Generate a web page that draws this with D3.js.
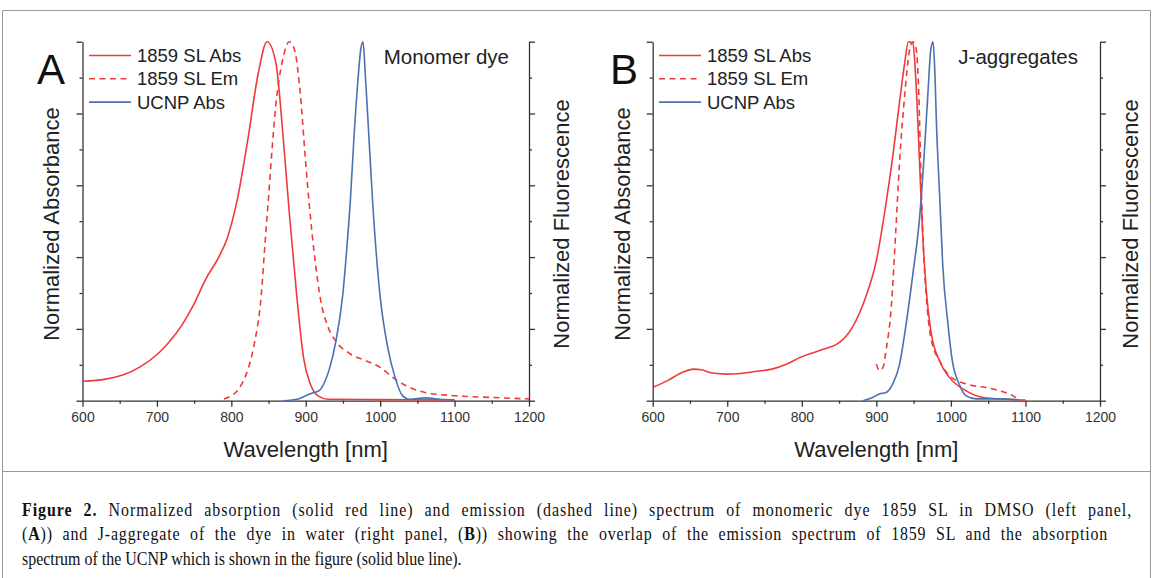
<!DOCTYPE html>
<html>
<head>
<meta charset="utf-8">
<script src="https://cdn.jsdelivr.net/npm/d3@7"></script>
<style>
  body { margin: 0; background: #fff; }
  svg { display: block; }
</style>
</head>
<body>
<div class="chart"></div>
<script>
// panel A: monomer dye  [wavelength nm, normalized value]
const absA = [[600,0.054],[631,0.06],[655,0.072],[678,0.095],[701,0.13],[715,0.16],[734,0.212],[748,0.262],[766,0.34],[783,0.40],[794,0.45],[808,0.56],[822,0.725],[836,0.91],[848,1.0],[860,0.94],[869,0.75],[878,0.52],[888,0.29],[897,0.12],[906,0.047],[916,0.014],[930,0.004],[1000,0.003],[1100,0.002]];
const emA = [[790,0.005],[800,0.014],[810,0.033],[820,0.074],[830,0.15],[840,0.29],[845,0.43],[850,0.567],[855,0.707],[860,0.828],[868,0.94],[878,1.0],[885,0.977],[893,0.847],[900,0.66],[905,0.54],[912,0.40],[920,0.28],[930,0.205],[940,0.167],[960,0.13],[980,0.112],[1000,0.093],[1020,0.06],[1040,0.037],[1060,0.023],[1100,0.014],[1150,0.009],[1200,0.005]];
const ucnpA = [[870,0],[890,0.005],[900,0.014],[910,0.022],[918,0.028],[925,0.05],[932,0.09],[940,0.16],[950,0.30],[955,0.42],[960,0.56],[965,0.74],[970,0.89],[974,0.98],[977,1.0],[980,0.91],[985,0.73],[990,0.55],[1000,0.29],[1010,0.15],[1020,0.065],[1030,0.014],[1040,0.004],[1060,0.008],[1080,0.004],[1100,0.002]];

// panel B: J-aggregates
const absB = [[600,0.037],[620,0.056],[640,0.079],[655,0.088],[665,0.086],[680,0.077],[700,0.074],[740,0.082],[760,0.088],[780,0.102],[797,0.12],[824,0.14],[851,0.163],[868,0.205],[886,0.29],[900,0.39],[913,0.55],[922,0.68],[931,0.83],[938,0.94],[943,1.0],[949,0.995],[953,0.893],[958,0.66],[962,0.47],[967,0.307],[973,0.195],[985,0.11],[998,0.065],[1020,0.028],[1043,0.009],[1074,0.004],[1100,0.002]];
const emB = [[900,0.102],[904,0.084],[909,0.093],[913,0.14],[920,0.26],[926,0.47],[931,0.66],[938,0.85],[944,0.97],[949,1.0],[953,0.986],[957,0.85],[960,0.614],[963,0.43],[967,0.29],[973,0.177],[985,0.11],[998,0.07],[1020,0.047],[1029,0.042],[1047,0.037],[1065,0.028],[1083,0.014],[1092,0.002]];
const ucnpB = [[882,0],[895,0.009],[904,0.019],[913,0.023],[922,0.047],[931,0.10],[940,0.214],[949,0.353],[958,0.51],[964,0.68],[969,0.85],[973,0.977],[976,1.0],[978,0.94],[981,0.75],[985,0.567],[989,0.38],[996,0.214],[1002,0.11],[1011,0.047],[1020,0.014],[1034,0.005],[1065,0.005],[1092,0.002]];

const xTicks = [600, 700, 800, 900, 1000, 1100, 1200];
const xMinor = [650, 750, 850, 950, 1050, 1150];
const yTicks = [0, 0.2, 0.4, 0.6, 0.8, 1.0];
const yMinor = [0.1, 0.3, 0.5, 0.7, 0.9];

const legendLabels = ['1859 SL Abs', '1859 SL Em', 'UCNP Abs'];
const captionLines = [
  [['Figure 2.', true], [' Normalized absorption (solid red line) and emission (dashed line) spectrum of monomeric dye 1859 SL in DMSO (left panel,', false]],
  [['(', false], ['A', true], [')) and J-aggregate of the dye in water (right panel, (', false], ['B', true], [')) showing the overlap of the emission spectrum of 1859 SL and the absorption', false]],
  [['spectrum of the UCNP which is shown in the figure (solid blue line).', false]]
];

const RED = '#f03a3a';
const BLUE = '#4a72b0';
const AXIS = '#333';
const SANS = '"Liberation Sans", Arial, sans-serif';

const width = 1153, height = 578;
const plotTop = 41.7, plotBottom = 400.7;

const svg = d3.select('.chart')
  .append('svg')
  .attr('width', width)
  .attr('height', height);

svg.append('rect').attr('width', width).attr('height', height).attr('fill', '#fff');

// frame
const frame = svg.append('g').attr('fill', 'none').attr('stroke', '#999').attr('stroke-width', 1);
frame.append('path').attr('d', `M2.5,${height} V10.5 H1150.5 V${height}`);
frame.append('line').attr('x1', 2.5).attr('x2', 1150.5).attr('y1', 471.5).attr('y2', 471.5);

const panels = [
  { left: 82.5, right: 529, letter: 'A', note: 'Monomer dye', noteX: 509, abs: absA, em: emA, ucnp: ucnpA, legX: 89, letterX: 37, yTitleL: 51, yTitleR: 561 },
  { left: 652.7, right: 1100, letter: 'B', note: 'J-aggregates', noteX: 1078, abs: absB, em: emB, ucnp: ucnpB, legX: 659, letterX: 610, yTitleL: 622, yTitleR: 1130 }
];

panels.forEach(p => {
  const g = svg.append('g');

  const x = d3.scaleLinear().domain([600, 1200]).range([p.left, p.right]);
  const y = d3.scaleLinear().domain([0, 1]).range([plotBottom, plotTop]);

  // axes
  const styleAxis = sel => {
    sel.selectAll('path, line').attr('stroke', AXIS).attr('stroke-width', 1.3);
    sel.selectAll('text').attr('font-family', SANS).attr('font-size', 14).attr('fill', '#333');
  };

  g.append('g').attr('transform', `translate(0,${plotBottom})`)
    .call(d3.axisBottom(x).tickValues(xTicks).tickFormat(d3.format('d')).tickSize(6).tickSizeOuter(0).tickPadding(5))
    .call(styleAxis);
  g.append('g').attr('transform', `translate(0,${plotBottom})`)
    .call(d3.axisBottom(x).tickValues(xMinor).tickSize(3).tickFormat(''))
    .call(styleAxis).select('.domain').remove();

  g.append('g').attr('transform', `translate(${p.left},0)`)
    .call(d3.axisLeft(y).tickValues(yTicks).tickSize(6).tickSizeOuter(0).tickFormat(''))
    .call(styleAxis);
  g.append('g').attr('transform', `translate(${p.left},0)`)
    .call(d3.axisLeft(y).tickValues(yMinor).tickSize(3).tickFormat(''))
    .call(styleAxis).select('.domain').remove();

  g.append('g').attr('transform', `translate(${p.right},0)`)
    .call(d3.axisRight(y).tickValues(yTicks).tickSize(6).tickSizeOuter(0).tickFormat(''))
    .call(styleAxis);
  g.append('g').attr('transform', `translate(${p.right},0)`)
    .call(d3.axisRight(y).tickValues(yMinor).tickSize(3).tickFormat(''))
    .call(styleAxis).select('.domain').remove();

  // lines
  const line = d3.line().x(d => x(d[0])).y(d => y(d[1])).curve(d3.curveMonotoneX);
  const series = [
    { data: p.abs, color: RED, dash: null },
    { data: p.em, color: RED, dash: '6,4.5' },
    { data: p.ucnp, color: BLUE, dash: null }
  ];
  g.selectAll('.series')
    .data(series)
    .enter()
    .append('path')
    .attr('class', 'series')
    .attr('d', d => line(d.data))
    .attr('fill', 'none')
    .attr('stroke', d => d.color)
    .attr('stroke-width', 1.6)
    .attr('stroke-dasharray', d => d.dash);

  // legend
  const leg = g.append('g');
  series.forEach((s, i) => {
    const ly = 55.5 + i * 23.3;
    leg.append('line')
      .attr('x1', p.legX).attr('x2', p.legX + 42)
      .attr('y1', ly).attr('y2', ly)
      .attr('stroke', s.color).attr('stroke-width', 1.6)
      .attr('stroke-dasharray', s.dash);
    leg.append('text')
      .attr('x', p.legX + 48).attr('y', ly + 6.5)
      .attr('font-family', SANS).attr('font-size', 18.5).attr('fill', '#222')
      .text(legendLabels[i]);
  });

  // panel letter and note
  g.append('text').attr('x', p.letterX).attr('y', 83.5)
    .attr('font-family', SANS).attr('font-size', 42).attr('fill', '#111')
    .text(p.letter);
  g.append('text').attr('x', p.noteX).attr('y', 64)
    .attr('text-anchor', 'end')
    .attr('font-family', SANS).attr('font-size', 20.5).attr('fill', '#222')
    .text(p.note);

  // axis titles
  g.append('text').attr('x', (p.left + p.right) / 2).attr('y', 457)
    .attr('text-anchor', 'middle')
    .attr('font-family', SANS).attr('font-size', 22).attr('fill', '#222')
    .text('Wavelength [nm]');
  [[p.yTitleL, 'Normalized Absorbance'], [p.yTitleR, 'Normalized Fluorescence']].forEach(([tx, label]) => {
    g.append('text')
      .attr('transform', `translate(${tx},224) rotate(-90)`)
      .attr('text-anchor', 'middle')
      .attr('dominant-baseline', 'central')
      .attr('font-family', SANS).attr('font-size', 22).attr('fill', '#222')
      .text(label);
  });
});

// caption: justified lines, condensed serif
const captionX = 22;
const captionEnds = [1133, 1109, 462];
const captionY = [516, 540, 565];
const capTexts = captionLines.map(parts => {
  const t = svg.append('text')
    .attr('font-family', '"Liberation Serif", "DejaVu Serif", serif')
    .attr('font-size', 18.5)
    .attr('fill', '#111');
  parts.forEach(([txt, bold]) => {
    t.append('tspan').attr('font-weight', bold ? 'bold' : 'normal').text(txt);
  });
  return t;
});
const lastIdx = capTexts.length - 1;
const sx = (captionEnds[lastIdx] - captionX) / capTexts[lastIdx].node().getComputedTextLength();
capTexts.forEach((t, i) => {
  if (i < lastIdx) {
    const str = captionLines[i].map(d => d[0]).join('');
    const natural = t.node().getComputedTextLength();
    const extra = (captionEnds[i] - captionX) / sx - natural;
    const spaces = str.split(' ').length - 1;
    // spread the slack over letters and word gaps
    t.attr('letter-spacing', (extra * 0.5) / str.length)
      .attr('word-spacing', (extra * 0.5) / spaces);
  }
  t.attr('transform', `translate(${captionX},${captionY[i]}) scale(${sx},1)`);
});
</script>
</body>
</html>
